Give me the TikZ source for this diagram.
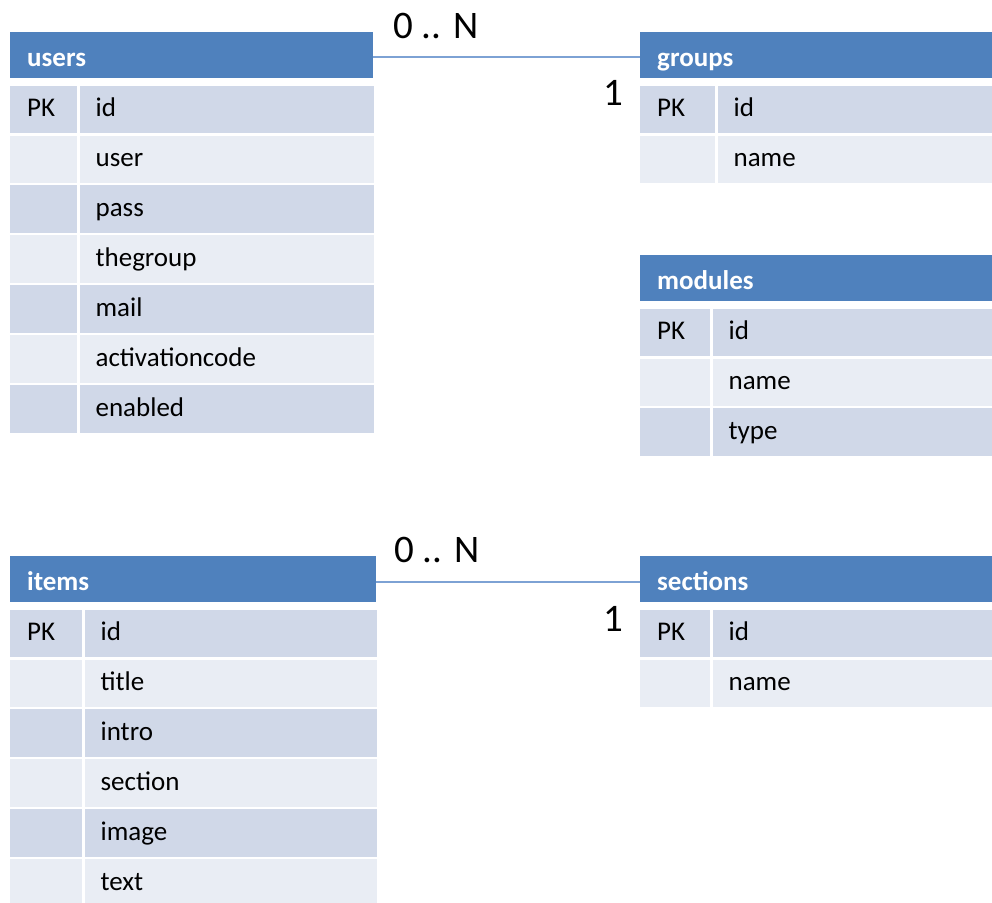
\documentclass[tikz,border=0pt]{standalone}
\usepackage{fontspec}
\setmainfont{Carlito}
\usetikzlibrary{positioning}
\definecolor{hdblue}{RGB}{79,129,189}
\definecolor{rowdark}{RGB}{208,216,232}
\definecolor{rowlight}{RGB}{233,237,244}
\definecolor{linkblue}{RGB}{125,162,212}

\begin{document}
\begin{tikzpicture}[x=1pt,y=-1pt,node distance=2pt,
		tblhead/.style={rectangle,fill=hdblue,text=white,font=\fontsize{27}{30}\selectfont\bfseries,
			minimum height=46pt,inner xsep=17pt,inner ysep=0pt,text width=#1,align=left,
			text height=25pt,text depth=3pt,anchor=north west},
		keycell/.style={rectangle,font=\fontsize{27}{30}\selectfont,minimum height=47.5pt,
			inner xsep=17pt,inner ysep=0pt,text width=#1,align=left,text height=20pt,text depth=5.5pt},
		fieldcell/.style={rectangle,font=\fontsize{27}{30}\selectfont,minimum height=47.5pt,
			inner xsep=16pt,inner ysep=0pt,text width=#1,align=left,text height=20pt,text depth=5.5pt},
		darkrow/.style={fill=rowdark},
		lightrow/.style={fill=rowlight},
		relline/.style={draw=linkblue,line width=2pt},
		cardlabel/.style={font=\fontsize{39}{42}\selectfont,inner sep=0pt}]
	\useasboundingbox (0,0) rectangle (992,902);
	% users
	\node[tblhead=329pt] (users) at (10,32) {users};
	\node[keycell=33pt,darkrow,below right=7pt and 0pt of users.south west] (u1) {PK};
	\node[fieldcell=262pt,darkrow,right=of u1] (u1f) {id};
	\node[keycell=33pt,lightrow,below=of u1] (u2) {};
	\node[fieldcell=262pt,lightrow,right=of u2] (u2f) {user};
	\node[keycell=33pt,darkrow,below=of u2] (u3) {};
	\node[fieldcell=262pt,darkrow,right=of u3] (u3f) {pass};
	\node[keycell=33pt,lightrow,below=of u3] (u4) {};
	\node[fieldcell=262pt,lightrow,right=of u4] (u4f) {thegroup};
	\node[keycell=33pt,darkrow,below=of u4] (u5) {};
	\node[fieldcell=262pt,darkrow,right=of u5] (u5f) {mail};
	\node[keycell=33pt,lightrow,below=of u5] (u6) {};
	\node[fieldcell=262pt,lightrow,right=of u6] (u6f) {activationcode};
	\node[keycell=33pt,darkrow,below=of u6] (u7) {};
	\node[fieldcell=262pt,darkrow,right=of u7] (u7f) {enabled};
	% groups
	\node[tblhead=318pt] (groups) at (640,32) {groups};
	\node[keycell=41pt,darkrow,below right=7pt and 0pt of groups.south west] (g1) {PK};
	\node[fieldcell=243pt,darkrow,right=of g1] (g1f) {id};
	\node[keycell=41pt,lightrow,below=of g1] (g2) {};
	\node[fieldcell=243pt,lightrow,right=of g2] (g2f) {name};
	% modules
	\node[tblhead=318pt] (modules) at (640,255) {modules};
	\node[keycell=36pt,darkrow,below right=7pt and 0pt of modules.south west] (m1) {PK};
	\node[fieldcell=248pt,darkrow,right=of m1] (m1f) {id};
	\node[keycell=36pt,lightrow,below=of m1] (m2) {};
	\node[fieldcell=248pt,lightrow,right=of m2] (m2f) {name};
	\node[keycell=36pt,darkrow,below=of m2] (m3) {};
	\node[fieldcell=248pt,darkrow,right=of m3] (m3f) {type};
	% items
	\node[tblhead=332pt] (items) at (10,556) {items};
	\node[keycell=38pt,darkrow,below right=7pt and 0pt of items.south west] (i1) {PK};
	\node[fieldcell=260pt,darkrow,right=of i1] (i1f) {id};
	\node[keycell=38pt,lightrow,below=of i1] (i2) {};
	\node[fieldcell=260pt,lightrow,right=of i2] (i2f) {title};
	\node[keycell=38pt,darkrow,below=of i2] (i3) {};
	\node[fieldcell=260pt,darkrow,right=of i3] (i3f) {intro};
	\node[keycell=38pt,lightrow,below=of i3] (i4) {};
	\node[fieldcell=260pt,lightrow,right=of i4] (i4f) {section};
	\node[keycell=38pt,darkrow,below=of i4] (i5) {};
	\node[fieldcell=260pt,darkrow,right=of i5] (i5f) {image};
	\node[keycell=38pt,lightrow,below=of i5] (i6) {};
	\node[fieldcell=260pt,lightrow,right=of i6] (i6f) {text};
	% sections
	\node[tblhead=318pt] (sections) at (640,556) {sections};
	\node[keycell=36pt,darkrow,below right=7pt and 0pt of sections.south west] (s1) {PK};
	\node[fieldcell=248pt,darkrow,right=of s1] (s1f) {id};
	\node[keycell=36pt,lightrow,below=of s1] (s2) {};
	\node[fieldcell=248pt,lightrow,right=of s2] (s2f) {name};
	% relations
	\draw[relline] ([yshift=-2pt]users.east) --
		node[cardlabel,pos=0,anchor=south west,xshift=19pt,yshift=17pt] {0 .. N}
		node[cardlabel,pos=1,anchor=north east,xshift=-16pt,yshift=-22pt] {1}
		([yshift=-2pt]groups.west);
	\draw[relline] ([yshift=-3pt]items.east) --
		node[cardlabel,pos=0,anchor=south west,xshift=17pt,yshift=18pt] {0 .. N}
		node[cardlabel,pos=1,anchor=north east,xshift=-16pt,yshift=-23pt] {1}
		([yshift=-3pt]sections.west);
\end{tikzpicture}
\end{document}
